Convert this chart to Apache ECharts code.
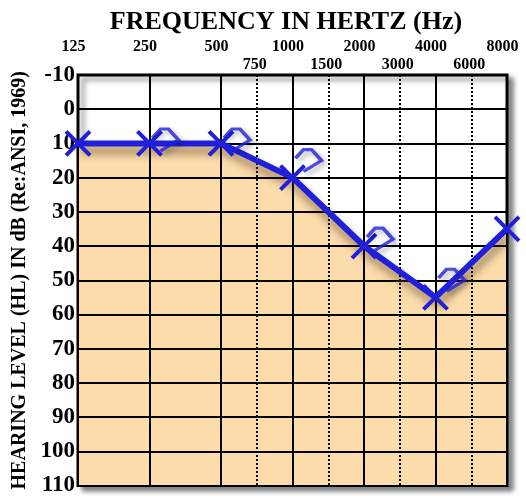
<!DOCTYPE html>
<html><head><meta charset="utf-8">
<script src="https://cdn.jsdelivr.net/npm/echarts@6/dist/echarts.min.js"></script>
<style>html,body{margin:0;padding:0;background:#fff}#c{width:526px;height:497px}</style>
</head><body><div id="c"></div>
<script>
// ---- data ----
const octaveFreqs = ['125','250','500','1000','2000','4000','8000'];
const halfOctaveTicks = ['125','','250','','500','750','1000','1500','2000','3000','4000','6000','8000'];
const airDb = [10, 10, 10, 20, 40, 55, 35];
const boneFreqs = ['250','500','1000','2000','4000'];
const boneDb = [9, 9, 15, 38, 50];
const yTicks = [-10, 110, 10]; // min, max, step
const titleText = 'FREQUENCY IN HERTZ (Hz)';
const yTitle = 'HEARING LEVEL (HL) IN dB (Re:ANSI, 1969)';

const SERIF = '"Liberation Serif", "DejaVu Serif", serif';
const BLUE = '#2020dc';
const FILL = '#fcdcaa';

const chart = echarts.init(document.getElementById('c'), null, {renderer:'canvas'});
const midLabels = new Set(['750','1500','3000','6000']);

chart.setOption({
  animation: false,
  backgroundColor: '#fff',
  graphic: [{
    type: 'text', x: 286, y: 22, z: 10,
    style: { text: titleText, font: 'bold 26px ' + SERIF, fill: '#000', textAlign: 'center', textVerticalAlign: 'middle' }
  }],
  grid: {
    left: 78, top: 75, width: 429, height: 416,
    show: true, backgroundColor: '#fff', borderColor: '#000', borderWidth: 3,
    shadowColor: 'rgba(0,0,0,0.45)', shadowBlur: 5, shadowOffsetX: 5, shadowOffsetY: 4
  },
  xAxis: [{
    type: 'category', data: octaveFreqs, position: 'top', boundaryGap: false, z: 2,
    axisLine: { show: false }, axisTick: { show: false },
    axisLabel: { color: '#000', fontFamily: SERIF, fontWeight: 'bold', fontSize: 16, margin: 20, padding: [0, 9, 0, 0] },
    splitLine: { show: true, lineStyle: { color: '#000', width: 2 } }
  }, {
    type: 'category', data: halfOctaveTicks, position: 'top', boundaryGap: false, z: 2,
    axisLine: { show: false }, axisTick: { show: false },
    axisLabel: { color: '#000', fontFamily: SERIF, fontWeight: 'bold', fontSize: 16, margin: 2, interval: 0, padding: [0, 4, 0, 0],
      formatter: v => midLabels.has(v) ? v : '' },
    splitLine: { show: true, interval: (i, v) => midLabels.has(v),
      lineStyle: { color: '#000', width: 2, type: [2, 2] } }
  }],
  yAxis: {
    type: 'value', inverse: true, min: yTicks[0], max: yTicks[1], interval: yTicks[2], z: 2,
    axisLine: { show: false }, axisTick: { show: false },
    axisLabel: { color: '#000', fontFamily: SERIF, fontWeight: 'bold', fontSize: 23, margin: 3 },
    splitLine: { show: true, lineStyle: { color: '#000', width: 2 } },
    name: yTitle, nameLocation: 'middle', nameRotate: 90, nameGap: 48,
    nameTextStyle: { color: '#000', fontFamily: SERIF, fontWeight: 'bold', fontSize: 20 }
  },
  series: [{
    type: 'line', name: 'area', xAxisIndex: 0, z: 1, silent: true,
    data: airDb, symbol: 'none',
    lineStyle: { width: 0, color: 'rgba(0,0,0,0)' },
    areaStyle: { origin: 'end', color: FILL, opacity: 1 }
  }, {
    type: 'line', name: 'air', xAxisIndex: 0, z: 4,
    data: airDb,
    symbol: 'path://M0,0L20,20M20,0L0,20', symbolSize: 24, showSymbol: true,
    lineStyle: { color: BLUE, width: 6, shadowColor: 'rgba(60,40,20,0.55)', shadowBlur: 8, shadowOffsetY: 7, shadowOffsetX: 2 },
    itemStyle: { color: 'rgba(0,0,0,0)', borderColor: BLUE, borderWidth: 4 }
  }, {
    type: 'scatter', name: 'bone', xAxisIndex: 0, z: 5,
    data: boneFreqs.map((f, i) => [f, boneDb[i]]),
    symbol: 'path://M2,8L10,0L18,0L28,10L10,20', symbolSize: [26, 22], symbolOffset: [16, 0],
    itemStyle: { color: 'rgba(0,0,0,0)', borderColor: BLUE, borderWidth: 3.5,
      shadowColor: 'rgba(0,0,0,0.35)', shadowBlur: 5, shadowOffsetX: 3, shadowOffsetY: 3 }
  }]
});
</script></body></html>
